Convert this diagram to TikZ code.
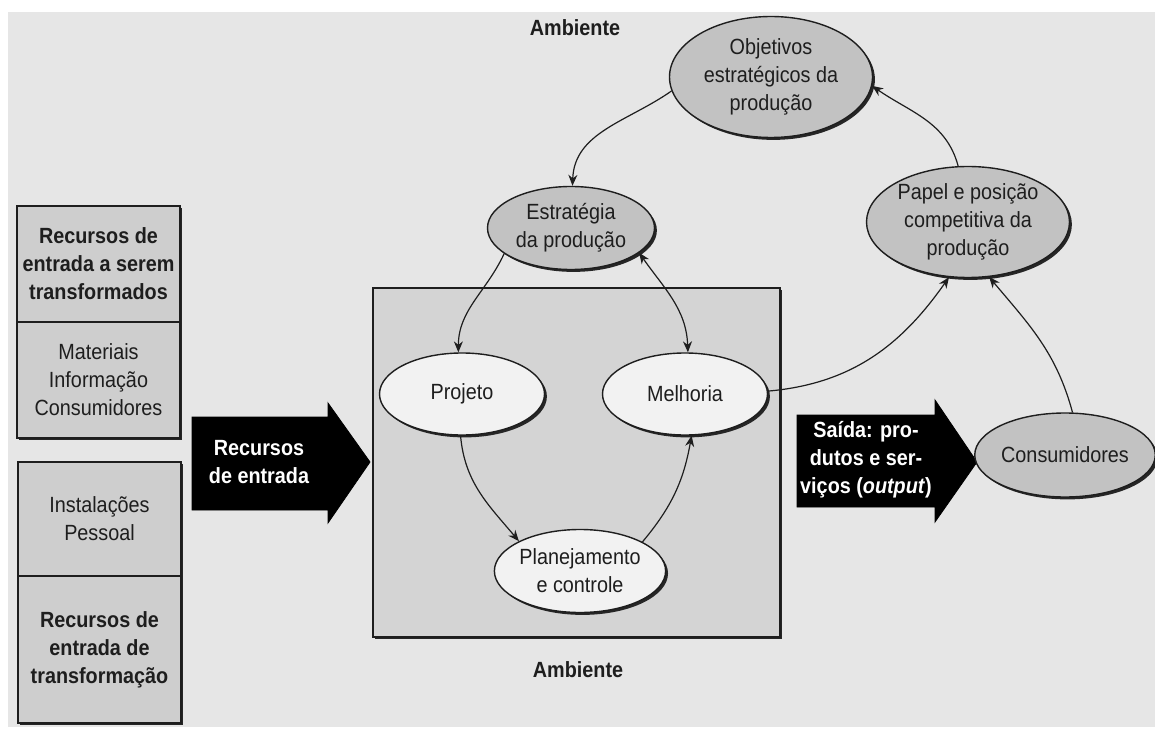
\documentclass[tikz,border=0pt]{standalone}
\usepackage{fontspec}
\setmainfont{Liberation Sans}[FakeStretch=0.9]
\usetikzlibrary{shapes.geometric,shadows,arrows.meta}
\definecolor{pagegray}{RGB}{230,230,230}
\definecolor{boxgray}{RGB}{206,206,206}
\definecolor{prodgray}{RGB}{212,212,212}
\definecolor{ellgray}{RGB}{194,194,194}
\definecolor{ellwhite}{RGB}{242,242,242}
\definecolor{ink}{RGB}{30,30,30}
\newcommand\dgmfont{\fontsize{11}{14}\selectfont}
\tikzset{
  shad/.style={drop shadow={shadow xshift=1.2pt,shadow yshift=-1.2pt,fill=black!85,opacity=1}},
  ell/.style={ellipse, draw=ink, line width=0.7pt, inner sep=0pt, align=center,
              font=\dgmfont, text=ink, shad},
  gell/.style={ell, fill=ellgray},
  well/.style={ell, fill=ellwhite},
  lbox/.style={rectangle, draw=ink, line width=0.7pt, fill=boxgray, inner sep=0pt, shad},
  txt/.style={align=center, font=\dgmfont, text=ink, inner sep=0pt},
  btxt/.style={align=center, font=\dgmfont\bfseries, text=ink, inner sep=0pt},
  wtxt/.style={align=center, font=\dgmfont\bfseries, text=white, inner sep=0pt},
  conn/.style={-{Stealth[length=5.5pt,width=4.5pt]}, line width=0.6pt, draw=ink},
  dconn/.style={{Stealth[length=5.5pt,width=4.5pt]}-{Stealth[length=5.5pt,width=4.5pt]}, line width=0.6pt, draw=ink},
  blockarrow/.style={fill=black, draw=black, line width=0.4pt}
}
\begin{document}
\begin{tikzpicture}[x=0.5pt,y=0.5pt]
\useasboundingbox (0,0) rectangle (1155,729);
\fill[white] (0,0) rectangle (1155,729);
\fill[pagegray] (8,2) rectangle (1155,717);

% production box
\node[lbox, fill=prodgray, minimum width=203.5pt, minimum height=174.5pt] (prod) at (576.5,266.5) {};

% left boxes
\node[lbox, minimum width=81.5pt, minimum height=116pt] (rt) at (98.5,407) {};
\draw[ink, line width=0.7pt] (rt.west) -- (rt.east);
\node[btxt] (rt1) at (98.5,465) {Recursos de\\entrada a serem\\transformados};
\node[txt] (rt2) at (98.5,349) {Materiais\\Informação\\Consumidores};

\node[lbox, minimum width=81.5pt, minimum height=130.5pt] (rb) at (99.5,136.5) {};
\draw[ink, line width=0.7pt] (rb.west |- 0,153) -- (rb.east |- 0,153);
\node[txt] (rb1) at (99.5,210) {Instalações\\Pessoal};
\node[btxt] (rb2) at (99.5,79) {Recursos de\\entrada de\\transformação};

% block arrows
\fill[blockarrow] (192,312) -- (328,312) -- (328,326) -- (370,267) -- (328,206) -- (328,219) -- (192,219) -- cycle;
\node[wtxt] (inarr) at (259,267) {Recursos\\de entrada};
\fill[blockarrow] (797,314) -- (935,314) -- (935,329) -- (977,267) -- (935,207) -- (935,222) -- (797,222) -- cycle;
\node[wtxt] (outarr) at (866,269) {Saída: pro-\\dutos e ser-\\viços (\textit{output})};

% Ambiente labels
\node[btxt] (amb1) at (575,701) {Ambiente};
\node[btxt] (amb2) at (578,59) {Ambiente};

% ellipses
\node[gell, minimum width=101.5pt, minimum height=60.5pt] (obj) at (771,652) {Objetivos\\estratégicos da\\produção};
\node[gell, minimum width=83.5pt, minimum height=41.5pt] (est) at (571,501) {Estratégia\\da produção};
\node[well, minimum width=82.5pt, minimum height=41pt] (proj) at (462,335) {Projeto};
\node[well, minimum width=82.5pt, minimum height=41pt] (mel) at (685,335) {Melhoria};
\node[well, minimum width=83pt, minimum height=41.5pt] (plan) at (580,158) {Planejamento\\e controle};
\node[gell, minimum width=101.5pt, minimum height=55.5pt] (pap) at (968,507) {Papel e posição\\competitiva da\\produção};
\node[gell, minimum width=83pt, minimum height=42pt] (cons) at (1065,274) {Consumidores};

% connectors
\draw[conn] (obj.188) to[out=215,in=88] (est.88);
\draw[conn] (pap.100) to[out=105,in=-35] (obj.-5);
\draw[conn] (est.201) to[out=245,in=90] (proj.95);
\draw[dconn] (est.-20) to[out=-55,in=92] (mel.86);
\draw[conn] (proj.-92) to[out=-85,in=130] (plan.154);
\draw[conn] (plan.25) to[out=50,in=-100] (mel.-81);
\draw[conn] (mel.2) to[out=5,in=235] (pap.251);
\draw[conn] (cons.80) to[out=105,in=-50] (pap.-69);
\end{tikzpicture}
\end{document}
